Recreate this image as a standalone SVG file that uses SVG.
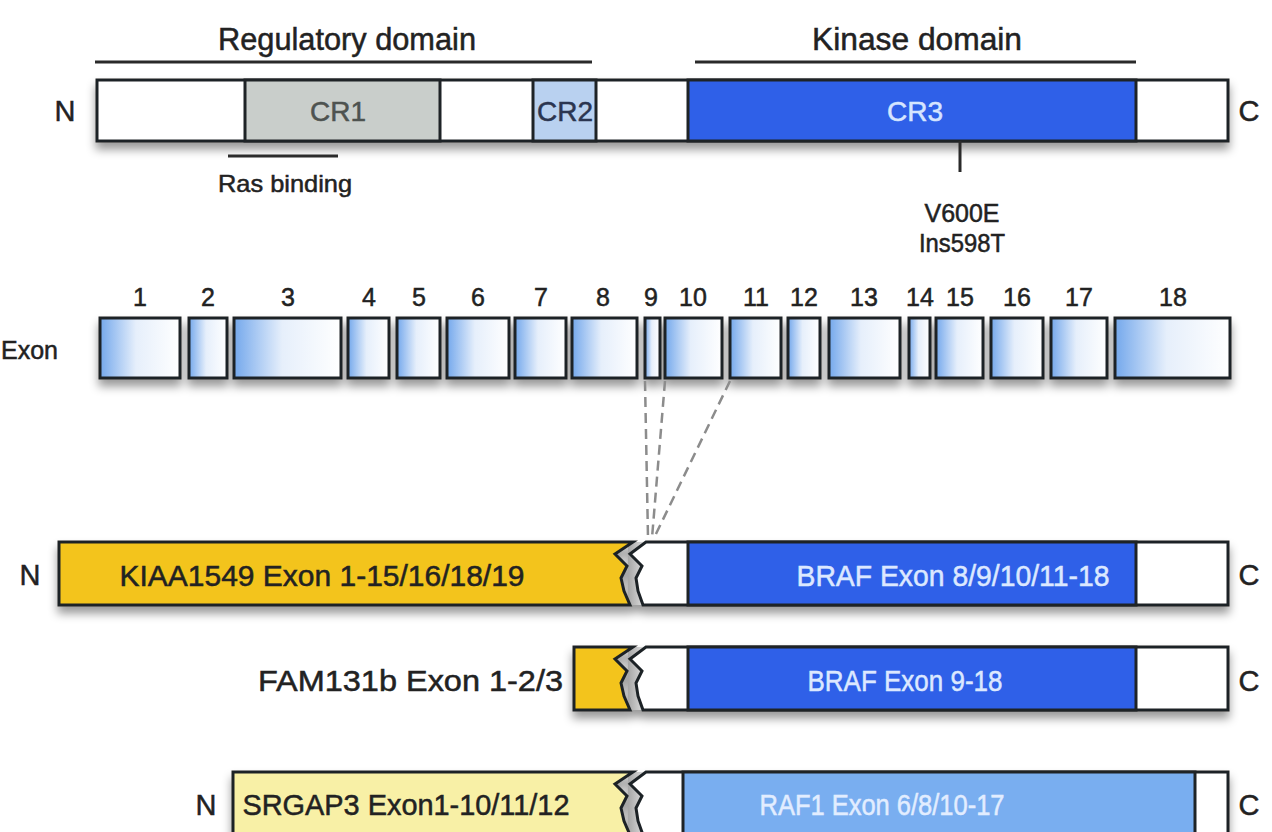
<svg xmlns="http://www.w3.org/2000/svg" width="1272" height="832" viewBox="0 0 1272 832">
<style>
.t{font-family:"Liberation Sans",Arial,sans-serif;fill:#222;stroke:#222;stroke-width:0.5;}
.w{fill:#dce8ff;stroke:#dce8ff;}
.bx{stroke:#1e2326;stroke-width:3;}
.ex{fill:url(#exg);stroke:#1e2326;stroke-width:3;}
.dl{stroke:#8c8c8c;stroke-width:2.5;stroke-dasharray:10 6;fill:none;}
.ln{stroke:#2a2a2a;stroke-width:3;}
</style>
<defs>
<filter id="sh" x="-5%" y="-30%" width="110%" height="180%">
<feDropShadow dx="0" dy="7" stdDeviation="5" flood-color="#000" flood-opacity="0.4"/>
</filter>
<linearGradient id="exg" x1="0" y1="0" x2="1" y2="0">
<stop offset="0" stop-color="#74a8ec"/>
<stop offset="0.45" stop-color="#e6effb"/>
<stop offset="1" stop-color="#ffffff"/>
</linearGradient>
<linearGradient id="gap" x1="0" y1="0" x2="1" y2="0">
<stop offset="0" stop-color="#a6a6a6"/>
<stop offset="1" stop-color="#e4e4e4"/>
</linearGradient>
</defs>
<rect width="1272" height="832" fill="#ffffff"/>

<g id="domain-labels">
<text class="t" x="347" y="50" font-size="31" text-anchor="middle" textLength="258" lengthAdjust="spacingAndGlyphs">Regulatory domain</text>
<line class="ln" x1="95" y1="62" x2="592" y2="62"/>
<text class="t" x="917" y="50" font-size="31" text-anchor="middle" textLength="210" lengthAdjust="spacingAndGlyphs">Kinase domain</text>
<line class="ln" x1="695" y1="62" x2="1136" y2="62"/>
</g>

<g id="braf-protein">
<g filter="url(#sh)">
<rect class="bx" x="97" y="80" width="1131" height="61" fill="#ffffff"/>
</g>
<rect class="bx" x="245" y="80" width="195" height="61" fill="#c9cecb"/>
<rect class="bx" x="533" y="80" width="63" height="61" fill="#b9d1f0"/>
<rect class="bx" x="688" y="80" width="448" height="61" fill="#2f60e8"/>
<text class="t" x="65" y="121" font-size="29" text-anchor="middle">N</text>
<text class="t" x="1249" y="121" font-size="29" text-anchor="middle">C</text>
<text class="t" x="338" y="121" font-size="28" text-anchor="middle" style="fill:#4e5350;stroke:#4e5350">CR1</text>
<text class="t" x="565" y="121" font-size="28" text-anchor="middle" textLength="56" lengthAdjust="spacingAndGlyphs" style="fill:#2b3550;stroke:#2b3550">CR2</text>
<text class="t" x="915" y="121" font-size="28" text-anchor="middle" style="fill:#d6e5ff;stroke:#d6e5ff">CR3</text>
</g>

<g id="ras-binding">
<line class="ln" x1="228" y1="156" x2="338" y2="156"/>
<text class="t" x="285" y="192" font-size="24" text-anchor="middle" textLength="134" lengthAdjust="spacingAndGlyphs">Ras binding</text>
</g>

<g id="mutation">
<line class="ln" x1="960" y1="141" x2="960" y2="172"/>
<text class="t" x="962" y="222" font-size="25" text-anchor="middle" textLength="75" lengthAdjust="spacingAndGlyphs">V600E</text>
<text class="t" x="962" y="252" font-size="25" text-anchor="middle" textLength="86" lengthAdjust="spacingAndGlyphs">Ins598T</text>
</g>

<g id="exons">
<text class="t" x="1" y="359" font-size="25" textLength="57" lengthAdjust="spacingAndGlyphs">Exon</text>
<g filter="url(#sh)">
<rect class="ex" x="100" y="318" width="80" height="60"/>
<rect class="ex" x="189" y="318" width="38" height="60"/>
<rect class="ex" x="234" y="318" width="107" height="60"/>
<rect class="ex" x="348" y="318" width="41" height="60"/>
<rect class="ex" x="397" y="318" width="43" height="60"/>
<rect class="ex" x="447" y="318" width="62" height="60"/>
<rect class="ex" x="515" y="318" width="51" height="60"/>
<rect class="ex" x="572" y="318" width="65" height="60"/>
<rect class="ex" x="645" y="318" width="15" height="60"/>
<rect class="ex" x="665" y="318" width="57" height="60"/>
<rect class="ex" x="730" y="318" width="51" height="60"/>
<rect class="ex" x="788" y="318" width="32" height="60"/>
<rect class="ex" x="829" y="318" width="71" height="60"/>
<rect class="ex" x="909" y="318" width="21" height="60"/>
<rect class="ex" x="936" y="318" width="47" height="60"/>
<rect class="ex" x="991" y="318" width="52" height="60"/>
<rect class="ex" x="1051" y="318" width="56" height="60"/>
<rect class="ex" x="1115" y="318" width="115" height="60"/>
</g>
<g font-size="25" text-anchor="middle">
<text class="t" x="140" y="306">1</text>
<text class="t" x="208" y="306">2</text>
<text class="t" x="288" y="306">3</text>
<text class="t" x="369" y="306">4</text>
<text class="t" x="419" y="306">5</text>
<text class="t" x="478" y="306">6</text>
<text class="t" x="541" y="306">7</text>
<text class="t" x="603" y="306">8</text>
<text class="t" x="651" y="306">9</text>
<text class="t" x="693" y="306">10</text>
<text class="t" x="756" y="306">11</text>
<text class="t" x="804" y="306">12</text>
<text class="t" x="864" y="306">13</text>
<text class="t" x="920" y="306">14</text>
<text class="t" x="960" y="306">15</text>
<text class="t" x="1017" y="306">16</text>
<text class="t" x="1079" y="306">17</text>
<text class="t" x="1173" y="306">18</text>
</g>
</g>

<g id="connectors">
<line class="dl" x1="645" y1="381" x2="648" y2="538"/>
<line class="dl" x1="665" y1="381" x2="652" y2="538"/>
<line class="dl" x1="730" y1="381" x2="654" y2="538"/>
</g>

<g id="fusion-kiaa1549-braf">
<g filter="url(#sh)">
<polygon points="628,542 646,542 632,554 643,566 637,578 640,591 645,605 628,605" fill="url(#gap)"/>
<polygon class="bx" points="59,542 633,542 615,554 627,566 621,578 624,591 630,605 59,605" fill="#f3c41a"/>
<polygon class="bx" points="646,542 1228,542 1228,605 643,605 638,591 636,578 642,566 630,554" fill="#ffffff"/>
</g>
<rect class="bx" x="688" y="542" width="448" height="63" fill="#2f60e8"/>
<text class="t" x="30" y="585" font-size="29" text-anchor="middle">N</text>
<text class="t" x="1249" y="585" font-size="29" text-anchor="middle">C</text>
<text class="t" x="322" y="586" font-size="29" text-anchor="middle" textLength="405" lengthAdjust="spacingAndGlyphs">KIAA1549 Exon 1-15/16/18/19</text>
<text class="t w" x="953" y="586" font-size="29" text-anchor="middle" textLength="313" lengthAdjust="spacingAndGlyphs">BRAF Exon 8/9/10/11-18</text>
</g>

<g id="fusion-fam131b-braf">
<g filter="url(#sh)">
<polygon points="628,647 646,647 632,659 643,671 637,683 640,696 645,710 628,710" fill="url(#gap)"/>
<polygon class="bx" points="574,647 633,647 615,659 627,671 621,683 624,696 630,710 574,710" fill="#f3c41a"/>
<polygon class="bx" points="646,647 1228,647 1228,710 643,710 638,696 636,683 642,671 630,659" fill="#ffffff"/>
</g>
<rect class="bx" x="688" y="647" width="448" height="63" fill="#2f60e8"/>
<text class="t" x="1249" y="691" font-size="29" text-anchor="middle">C</text>
<text class="t" x="563" y="691" font-size="29" text-anchor="end" textLength="305" lengthAdjust="spacingAndGlyphs">FAM131b Exon 1-2/3</text>
<text class="t w" x="905" y="691" font-size="29" text-anchor="middle" textLength="195" lengthAdjust="spacingAndGlyphs">BRAF Exon 9-18</text>
</g>

<g id="fusion-srgap3-raf1">
<g filter="url(#sh)">
<polygon points="628,772 646,772 632,784 643,796 637,808 640,821 645,835 628,835" fill="url(#gap)"/>
<polygon class="bx" points="233,772 633,772 615,784 627,796 621,808 624,821 630,835 233,835" fill="#f8f0a6"/>
<polygon class="bx" points="646,772 1228,772 1228,835 643,835 638,821 636,808 642,796 630,784" fill="#ffffff"/>
</g>
<rect class="bx" x="683" y="772" width="512" height="63" fill="#79aef0"/>
<text class="t" x="206" y="815" font-size="29" text-anchor="middle">N</text>
<text class="t" x="1249" y="815" font-size="29" text-anchor="middle">C</text>
<text class="t" x="406" y="815" font-size="29" text-anchor="middle" textLength="327" lengthAdjust="spacingAndGlyphs">SRGAP3 Exon1-10/11/12</text>
<text class="t" x="882" y="815" font-size="29" text-anchor="middle" textLength="245" lengthAdjust="spacingAndGlyphs" style="fill:#e2edff;stroke:#e2edff">RAF1 Exon 6/8/10-17</text>
</g>
</svg>
